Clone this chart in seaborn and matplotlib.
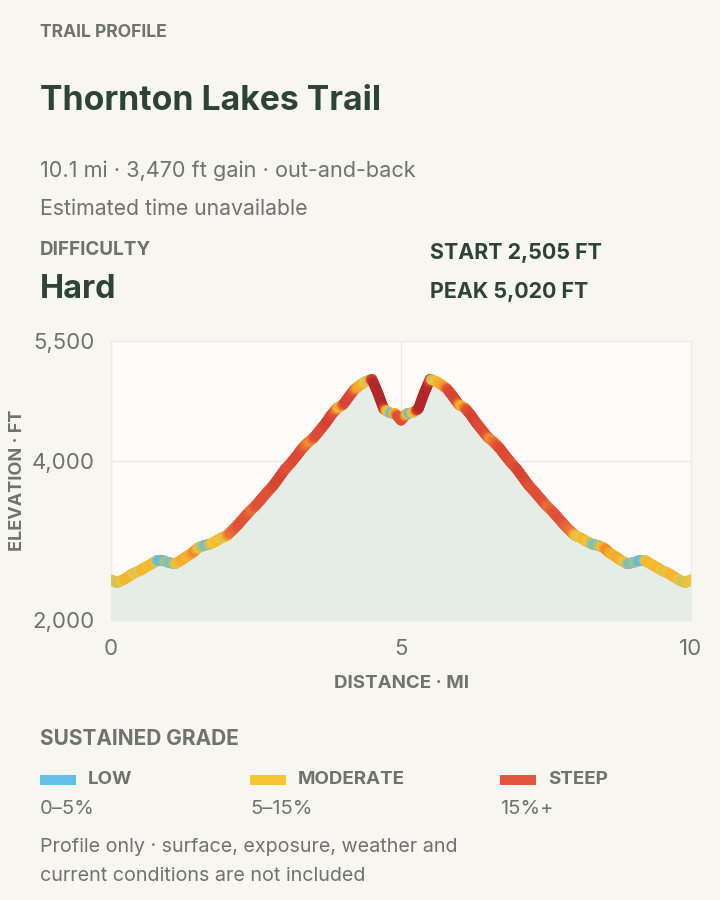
import numpy as np
import pandas as pd
import seaborn as sns
import matplotlib
matplotlib.use("Agg")
import matplotlib.pyplot as plt
from matplotlib.collections import LineCollection
from matplotlib.colors import LinearSegmentedColormap, Normalize
from matplotlib.patches import Rectangle

# ---------------- data ----------------
distance_mi = [
    0.0, 0.1, 0.2, 0.3, 0.4, 0.5, 0.6, 0.7, 0.8, 0.9,
    1.0, 1.1, 1.2, 1.3, 1.4, 1.5, 1.6, 1.7, 1.8, 1.9,
    2.0, 2.1, 2.2, 2.3, 2.4, 2.5, 2.6, 2.7, 2.8, 2.9,
    3.0, 3.1, 3.2, 3.3, 3.4, 3.5, 3.6, 3.7, 3.8, 3.9,
    4.0, 4.1, 4.2, 4.3, 4.4, 4.5, 4.6, 4.7, 4.8, 4.9,
    5.0, 5.1, 5.2, 5.3, 5.4, 5.5, 5.6, 5.7, 5.8, 5.9,
    6.0, 6.1, 6.2, 6.3, 6.4, 6.5, 6.6, 6.7, 6.8, 6.9,
    7.0, 7.1, 7.2, 7.3, 7.4, 7.5, 7.6, 7.7, 7.8, 7.9,
    8.0, 8.1, 8.2, 8.3, 8.4, 8.5, 8.6, 8.7, 8.8, 8.9,
    9.0, 9.1, 9.2, 9.3, 9.4, 9.5, 9.6, 9.7, 9.8, 9.9,
    10.0,
]
elevation_ft = [
    2505, 2470, 2500, 2545, 2590, 2620, 2665, 2705, 2750, 2745,
    2720, 2705, 2745, 2795, 2840, 2905, 2935, 2950, 2985, 3030,
    3060, 3130, 3205, 3290, 3370, 3440, 3525, 3610, 3690, 3790,
    3890, 3970, 4060, 4155, 4230, 4290, 4380, 4470, 4575, 4660,
    4700, 4800, 4895, 4950, 4995, 5020, 4850, 4650, 4600, 4590,
    4505,
    4590, 4600, 4650, 4850, 5020, 4995, 4950, 4895, 4800, 4700,
    4660, 4575, 4470, 4380, 4290, 4230, 4155, 4060, 3970, 3890,
    3790, 3690, 3610, 3525, 3440, 3370, 3290, 3205, 3130, 3060,
    3030, 2985, 2950, 2935, 2905, 2840, 2795, 2745, 2705, 2720,
    2745, 2750, 2705, 2665, 2620, 2590, 2545, 2500, 2470, 2505,
]

x_ticks = [0, 5, 10]
x_tick_labels = ["0", "5", "10"]
y_ticks = [2000, 4000, 5500]
y_tick_labels = ["2,000", "4,000", "5,500"]

grade_names = ["LOW", "MODERATE", "STEEP"]
grade_ranges = ["0\u20135%", "5\u201315%", "15%+"]
grade_colors = ["#62bfe8", "#f5c532", "#e0553d"]

# ---------------- style ----------------
BG = "#f7f6f1"
DARK = "#2c4336"
GRAY = "#6e736c"

sns.set_theme(style="white")
plt.rcParams["font.family"] = ["Inter", "DejaVu Sans"]

fig = plt.figure(figsize=(7.2, 9.0), dpi=100)
fig.patch.set_facecolor(BG)

W, H = 720.0, 900.0
def fx(px):
    return px / W
def fy(py):
    return 1 - py / H

ax = fig.add_axes([fx(111), fy(620), fx(691) - fx(111), (620 - 341) / H])
ax.set_facecolor("#fdfcfa")

df = pd.DataFrame({"distance": distance_mi, "elevation": elevation_ft})

ax.fill_between(df["distance"], df["elevation"], 2000, color="#e5ede6", lw=0, zorder=1)
sns.lineplot(data=df, x="distance", y="elevation", ax=ax, color="#ef8a35",
             lw=7.5, zorder=2, solid_capstyle="round")

# grade-coloured line
d = np.asarray(distance_mi, float)
e = np.asarray(elevation_ft, float)
seg_grade = np.abs(np.diff(e)) / (np.diff(d) * 5280.0) * 100.0
pt_grade = np.empty_like(e)
pt_grade[0] = seg_grade[0]
pt_grade[-1] = seg_grade[-1]
pt_grade[1:-1] = (seg_grade[:-1] + seg_grade[1:]) / 2.0

gmax = 28.0
cmap = LinearSegmentedColormap.from_list(
    "grade",
    [(0.0, "#5bbde6"), (2 / gmax, "#5bbde6"), (7 / gmax, "#f5c532"),
     (11 / gmax, "#f39a2c"), (15 / gmax, "#e3533a"), (21 / gmax, "#d03c2e"),
     (1.0, "#b3262a")])
norm = Normalize(0, gmax)

segs, cols = [], []
n_sub = 8
for i in range(len(d) - 1):
    for k in range(n_sub):
        t0, t1 = k / n_sub, (k + 1) / n_sub
        p0 = (d[i] + (d[i + 1] - d[i]) * t0, e[i] + (e[i + 1] - e[i]) * t0)
        p1 = (d[i] + (d[i + 1] - d[i]) * t1, e[i] + (e[i + 1] - e[i]) * t1)
        tm = (t0 + t1) / 2
        if tm < 0.5:
            g = pt_grade[i] + (seg_grade[i] - pt_grade[i]) * (tm / 0.5)
        else:
            g = seg_grade[i] + (pt_grade[i + 1] - seg_grade[i]) * ((tm - 0.5) / 0.5)
        segs.append([p0, p1])
        cols.append(cmap(norm(g)))
lc = LineCollection(segs, colors=cols, linewidths=7.5, capstyle="round", zorder=3)
ax.add_collection(lc)

ax.set_xlim(0, 10)
ax.set_ylim(2000, 5500)
ax.set_xticks(x_ticks)
ax.set_xticklabels(x_tick_labels)
ax.set_yticks(y_ticks)
ax.set_yticklabels(y_tick_labels)
ax.tick_params(axis="both", length=0, labelsize=16, labelcolor=GRAY)
ax.tick_params(axis="y", pad=12)
ax.tick_params(axis="x", pad=14)
ax.grid(True, color="#ebebe6", lw=1)
ax.set_axisbelow(True)
for s in ax.spines.values():
    s.set_color("#ececE7")
    s.set_linewidth(1)
ax.set_xlabel("")
ax.set_ylabel("")

fig.text(fx(18), fy(480), "ELEVATION \u00b7 FT", rotation=90, ha="center", va="center",
         fontsize=13, fontweight="bold", color=GRAY)
fig.text(fx(401), fy(684), "DISTANCE \u00b7 MI", ha="center", va="center",
         fontsize=13.5, fontweight="bold", color=GRAY)

# ---------------- header ----------------
fig.text(fx(40), fy(37), "TRAIL PROFILE", fontsize=12.6, fontweight="bold", color=GRAY, va="baseline")
fig.text(fx(40), fy(110), "Thornton Lakes Trail", fontsize=24.3, fontweight="bold", color=DARK, va="baseline")
fig.text(fx(40), fy(177), "10.1 mi \u00b7 3,470 ft gain \u00b7 out-and-back", fontsize=15.6, color=GRAY, va="baseline")
fig.text(fx(40), fy(215), "Estimated time unavailable", fontsize=15.3, color=GRAY, va="baseline")
fig.text(fx(40), fy(255), "DIFFICULTY", fontsize=13.6, fontweight="bold", color=GRAY, va="baseline")
fig.text(fx(40), fy(298), "Hard", fontsize=23.3, fontweight="bold", color=DARK, va="baseline")
fig.text(fx(430), fy(259), "START 2,505 FT", fontsize=15.4, fontweight="bold", color=DARK, va="baseline")
fig.text(fx(430), fy(298), "PEAK 5,020 FT", fontsize=15.4, fontweight="bold", color=DARK, va="baseline")

# ---------------- legend ----------------
fig.text(fx(40), fy(745), "SUSTAINED GRADE", fontsize=15, fontweight="bold", color=GRAY, va="baseline")
leg_x = [40, 250, 500]
for x0, name, rng, col in zip(leg_x, grade_names, grade_ranges, grade_colors):
    fig.patches.append(Rectangle((fx(x0), fy(785)), 36 / W, 10 / H, transform=fig.transFigure,
                                 facecolor=col, edgecolor="none"))
    fig.text(fx(x0 + 48), fy(784), name, fontsize=13.5, fontweight="bold", color=GRAY, va="baseline")
    fig.text(fx(x0), fy(814), rng, fontsize=14.5, color=GRAY, va="baseline")

fig.text(fx(40), fy(852), "Profile only \u00b7 surface, exposure, weather and", fontsize=14.2, color=GRAY, va="baseline")
fig.text(fx(40), fy(881), "current conditions are not included", fontsize=14.2, color=GRAY, va="baseline")

fig.savefig("out.png", dpi=100, facecolor=BG)
